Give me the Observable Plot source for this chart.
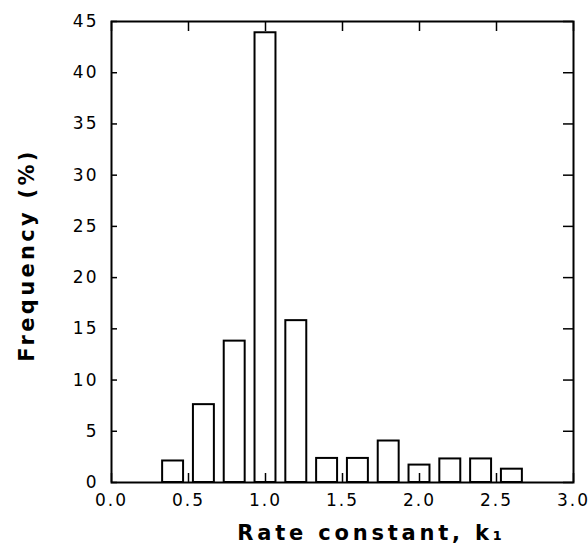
<!DOCTYPE html>
<html>
<head>
<meta charset="utf-8">
<script src="https://cdn.jsdelivr.net/npm/d3@7"></script>
<script src="https://cdn.jsdelivr.net/npm/@observablehq/plot@0.6"></script>
<style>
  html, body { margin: 0; padding: 0; background: #fff; }
  g[aria-label="x-axis tick label"], g[aria-label="y-axis tick label"] { letter-spacing: 2px; }
</style>
</head>
<body>
<div id="chart"></div>
<script>
// Bin centres (rate constant k1) and frequency (%)
const binCenters = [0.4, 0.6, 0.8, 1.0, 1.2, 1.4, 1.6, 1.8, 2.0, 2.2, 2.4, 2.6];
const frequency  = [2.1, 7.6, 13.8, 43.9, 15.8, 2.35, 2.35, 4.05, 1.7, 2.3, 2.3, 1.3];
const xTicks = [0, 0.5, 1.0, 1.5, 2.0, 2.5, 3.0];
const yTicks = [0, 5, 10, 15, 20, 25, 30, 35, 40, 45];
const xLabel = "Rate constant, k\u2081";
const yLabel = "Frequency (%)";

const data = binCenters.map((k, i) => ({k, freq: frequency[i]}));

const W = 588, H = 550;
const mL = 111, mR = 15, mT = 21, mB = 68;
const innerW = W - mL - mR, innerH = H - mT - mB;
const halfBar = 0.068;

const chart = Plot.plot({
  width: W,
  height: H,
  marginLeft: mL,
  marginRight: mR,
  marginTop: mT,
  marginBottom: mB,
  style: {fontFamily: "DejaVu Sans", background: "#fff", color: "#000"},
  x: {domain: [0, 3], label: null},
  y: {domain: [0, 45], label: null},
  marks: [
    Plot.rectY(data, {
      x1: d => d.k - halfBar,
      x2: d => d.k + halfBar,
      y: "freq",
      fill: "white",
      stroke: "black",
      strokeWidth: 2
    }),
    // inward ticks
    Plot.ruleX(xTicks, {x: d => d, insetTop: innerH - 9, stroke: "black", strokeWidth: 1.5}),
    Plot.ruleX(xTicks, {x: d => d, insetBottom: innerH - 10, stroke: "black", strokeWidth: 1.5}),
    Plot.ruleY(yTicks, {y: d => d, insetRight: innerW - 6, stroke: "black", strokeWidth: 1.5}),
    Plot.ruleY(yTicks, {y: d => d, insetLeft: innerW - 10, stroke: "black", strokeWidth: 1.5}),
    Plot.frame({stroke: "black", strokeWidth: 2}),
    Plot.axisX({ticks: xTicks, tickFormat: d3.format(".1f"), tickSize: 0, tickPadding: 11,
      fontSize: 17, label: null}),
    Plot.axisY({ticks: yTicks, tickFormat: d3.format("d"), tickSize: 0, tickPadding: 13,
      fontSize: 17, label: null}),
    Plot.text([xLabel], {
      text: d => d, frameAnchor: "bottom", textAnchor: "middle", dx: 29, dy: 57,
      fontSize: 21, fontWeight: "bold", fill: "black"
    }),
    Plot.text([yLabel], {
      text: d => d, frameAnchor: "left", textAnchor: "middle", rotate: -90, dx: -84, dy: 3,
      fontSize: 21, fontWeight: "bold", fill: "black"
    })
  ]
});
d3.select(chart).selectAll("text")
  .filter(function() { return this.textContent === xLabel; })
  .style("letter-spacing", "3.8px");
d3.select(chart).selectAll("text")
  .filter(function() { return this.textContent === yLabel; })
  .style("letter-spacing", "3.3px");
document.getElementById("chart").appendChild(chart);
</script>
</body>
</html>
